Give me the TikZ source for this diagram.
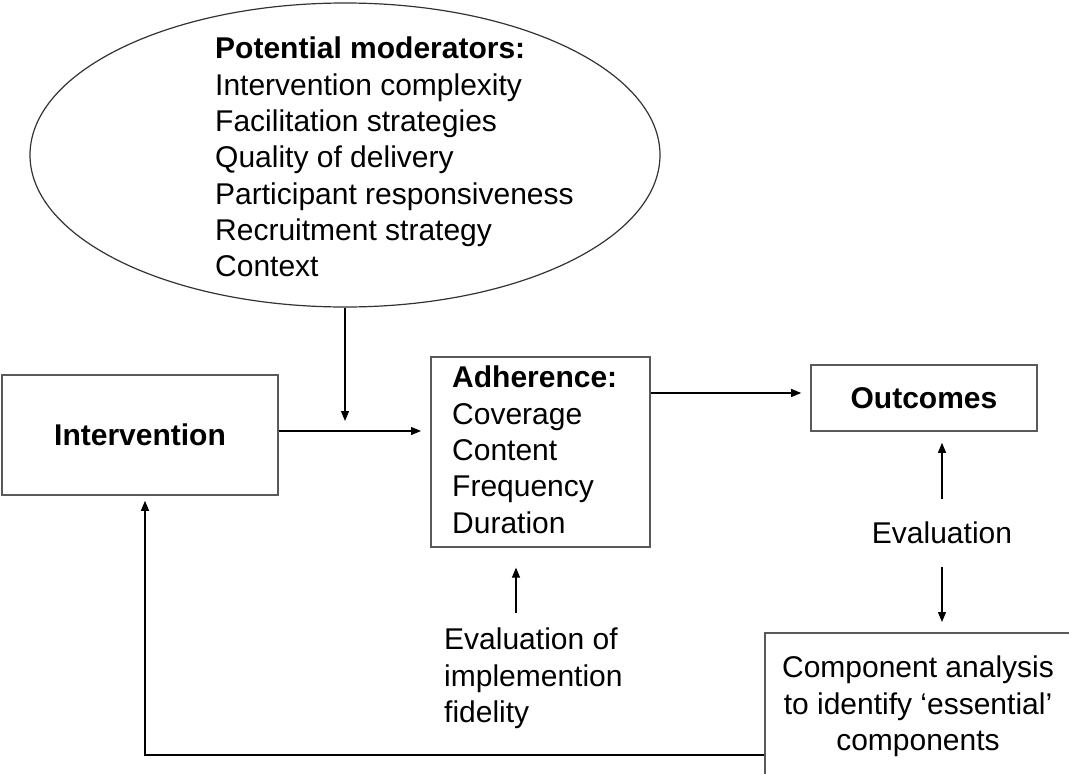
\documentclass[tikz,border=0pt]{standalone}
\usepackage{fontspec}
\setmainfont{Liberation Sans}
\usetikzlibrary{arrows.meta,shapes.geometric,calc}
\begin{document}
\begin{tikzpicture}[x=1pt,y=-1pt,
  box/.style={draw=black!65,line width=1.6pt,rectangle,inner sep=0pt},
  lbl/.style={font=\fontsize{30}{36.3}\selectfont,align=left,inner sep=0pt},
  arr/.style={line width=1.2pt,-{Triangle[length=10pt,width=8pt]}}]
% page frame
\clip (0,0) rectangle (1069,774);
\fill[white] (0,0) rectangle (1069,774);

% moderators ellipse and its list
\node[ellipse,draw=black!80,line width=1.2pt,minimum width=630pt,minimum height=304pt,inner sep=0pt] (mod) at (345,155) {};
\node[lbl,anchor=north west] (modtext) at (215,37)
  {\textbf{Potential moderators:}\\Intervention complexity\\Facilitation strategies\\Quality of delivery\\Participant responsiveness\\Recruitment strategy\\Context};

% boxes
\node[box,minimum width=276pt,minimum height=120pt,font=\fontsize{30}{36}\selectfont\bfseries] (intv) at (140,435) {Intervention};
\node[box,minimum width=219pt,minimum height=190pt,anchor=north west] (adh) at (430,356) {};
\node[lbl,anchor=north west] (adhtext) at (452,366)
  {\textbf{Adherence:}\\Coverage\\Content\\Frequency\\Duration};
\node[box,minimum width=226pt,minimum height=66pt,font=\fontsize{30}{36}\selectfont\bfseries] (out) at (924,398) {Outcomes};
\node[box,minimum width=308pt,minimum height=200pt,anchor=north west] (comp) at (764,632) {};
\node[lbl,align=center,anchor=north] (comptext) at (918,656)
  {Component analysis\\to identify \textquoteleft essential\textquoteright\\components};

% free labels
\node[lbl,minimum height=67pt] (evalout) at (942,533) {Evaluation};
\node[lbl,anchor=north west] (evalfid) at (444,628) {Evaluation of\\implemention\\fidelity};

% connectors
\coordinate (join) at (345,421);
\draw[arr] (mod.south) -- (join);
\path (intv.east) ++(0,-4) coordinate (a1);
\draw[arr,shorten >=9pt] (a1) -- (a1 -| adh.west);
\draw[arr,shorten >=9pt] (adh.east |- 0,393) -- (out.west |- 0,393);
\draw[arr,shorten >=11pt] (evalout.north) -- (evalout.north |- out.south);
\draw[arr,shorten >=10pt] (evalout.south) -- (evalout.south |- comp.north);
\coordinate (fidtop) at (516,613);
\draw[arr,shorten >=20pt] (fidtop) -- (fidtop |- adh.south);
\coordinate (fb) at (145,755);
\draw[arr,shorten >=5pt] (comp.west |- fb) -- (fb) -- (fb |- intv.south);
\end{tikzpicture}
\end{document}
